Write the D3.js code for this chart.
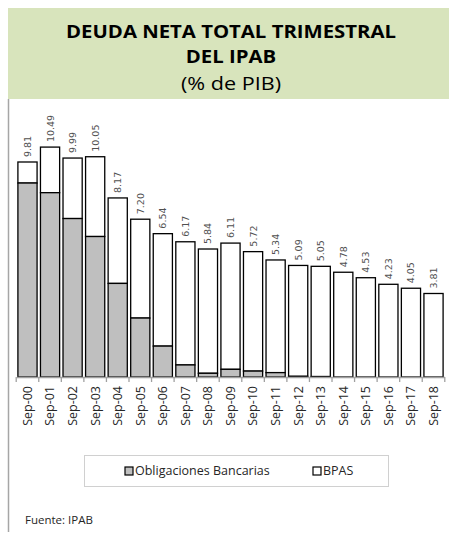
<!DOCTYPE html>
<html>
<head>
<meta charset="utf-8">
<script src="https://cdn.jsdelivr.net/npm/d3@7"></script>
<style>
  body { margin: 0; background: #fff; }
  svg { display: block; }
</style>
</head>
<body>
<script>
const periods = ['Sep-00', 'Sep-01', 'Sep-02', 'Sep-03', 'Sep-04', 'Sep-05', 'Sep-06',
                 'Sep-07', 'Sep-08', 'Sep-09', 'Sep-10', 'Sep-11', 'Sep-12', 'Sep-13',
                 'Sep-14', 'Sep-15', 'Sep-16', 'Sep-17', 'Sep-18'];
const totals = [9.81, 10.49, 9.99, 10.05, 8.17, 7.20, 6.54, 6.17, 5.84, 6.11,
                5.72, 5.34, 5.09, 5.05, 4.78, 4.53, 4.23, 4.05, 3.81];
const obligaciones = [8.85, 8.41, 7.23, 6.41, 4.27, 2.69, 1.41, 0.55, 0.17, 0.35,
                      0.27, 0.20, 0.03, 0.02, 0, 0, 0, 0, 0];
const seriesNames = ['Obligaciones Bancarias', 'BPAS'];

const W = 449, H = 533;
const svg = d3.select('body').append('svg')
  .attr('width', W)
  .attr('height', H);

// title box
svg.append('rect')
  .attr('x', 8).attr('y', 8)
  .attr('width', W - 8).attr('height', 91)
  .attr('fill', '#d8e4bc');

svg.append('line')
  .attr('x1', 8.5).attr('x2', 8.5)
  .attr('y1', 99).attr('y2', 532)
  .attr('stroke', '#a6a6a6').attr('stroke-width', 1.5);

// title lines, stretched a bit wider like the original
const titleLines = [
  { text: 'DEUDA NETA TOTAL TRIMESTRAL', y: 38, bold: true, size: 18, sx: 1.13 },
  { text: 'DEL IPAB', y: 63, bold: true, size: 18, sx: 1.13 },
  { text: '(% de PIB)', y: 90, bold: false, size: 18, sx: 1.2 }
];
svg.selectAll('.title')
  .data(titleLines)
  .enter()
  .append('text')
  .attr('class', 'title')
  .attr('transform', (d) => `translate(231,${d.y}) scale(${d.sx},1)`)
  .attr('text-anchor', 'middle')
  .style('font-family', '"Open Sans", sans-serif')
  .style('font-weight', (d) => d.bold ? 'bold' : 'normal')
  .style('font-size', (d) => d.size + 'px')
  .attr('fill', '#000')
  .text((d) => d.text);

// chart
const data = periods.map((p, i) => ({
  period: p,
  total: totals[i],
  ob: obligaciones[i],
  bpas: totals[i] - obligaciones[i]
}));

const x = d3.scaleBand()
  .domain(periods)
  .range([17, 444])
  .paddingInner(0.15)
  .paddingOuter(0.04);

const y = d3.scaleLinear()
  .domain([0, 12])
  .range([377, 114]);

const g = svg.append('g');

g.selectAll('.bpas')
  .data(data)
  .enter()
  .append('rect')
  .attr('class', 'bpas')
  .attr('x', (d) => x(d.period))
  .attr('width', x.bandwidth())
  .attr('y', (d) => y(d.total))
  .attr('height', (d) => y(d.ob) - y(d.total))
  .attr('fill', '#fff')
  .attr('stroke', '#000')
  .attr('stroke-width', 1.3);

g.selectAll('.ob')
  .data(data.filter((d) => d.ob > 0))
  .enter()
  .append('rect')
  .attr('class', 'ob')
  .attr('x', (d) => x(d.period))
  .attr('width', x.bandwidth())
  .attr('y', (d) => y(d.ob))
  .attr('height', (d) => y(0) - y(d.ob))
  .attr('fill', '#bfbfbf')
  .attr('stroke', '#000')
  .attr('stroke-width', 1.3);

// value labels
g.selectAll('.val')
  .data(data)
  .enter()
  .append('text')
  .attr('class', 'val')
  .attr('transform', (d) => `translate(${x(d.period) + x.bandwidth() / 2 + 3.5},${y(d.total) - 5}) rotate(-90)`)
  .style('font-family', '"DejaVu Sans", sans-serif')
  .style('font-size', '9.5px')
  .attr('fill', '#505050')
  .text((d) => d.total.toFixed(2));

// x axis
const xAxis = svg.append('g')
  .attr('transform', `translate(0,${y(0)})`)
  .call(d3.axisBottom(x).tickSize(0).tickPadding(0));
xAxis.select('.domain').remove();
xAxis.selectAll('text')
  .attr('transform', 'rotate(-90)')
  .attr('text-anchor', 'end')
  .attr('x', -9)
  .attr('y', 0)
  .attr('dy', '0.35em')
  .style('font-family', '"Open Sans", sans-serif')
  .style('font-size', '12.5px')
  .attr('fill', '#262626');

svg.append('line')
  .attr('x1', 17).attr('x2', 445)
  .attr('y1', y(0) + 0.5).attr('y2', y(0) + 0.5)
  .attr('stroke', '#a0a0a0').attr('stroke-width', 1.5);

const step = x.step();
const bounds = d3.range(periods.length + 1).map((i) => x(periods[0]) - step * x.paddingInner() / 2 + i * step);
svg.selectAll('.tick-mark')
  .data(bounds)
  .enter()
  .append('line')
  .attr('class', 'tick-mark')
  .attr('x1', (d) => d).attr('x2', (d) => d)
  .attr('y1', y(0)).attr('y2', y(0) + 5)
  .attr('stroke', '#a0a0a0').attr('stroke-width', 1.3);

// legend
svg.append('rect')
  .attr('x', 84.5).attr('y', 455.5)
  .attr('width', 304).attr('height', 31)
  .attr('fill', '#fff')
  .attr('stroke', '#d0d0d0');

const legendFill = ['#bfbfbf', '#fff'];
const legendX = [125, 313];
const legend = svg.selectAll('.legend')
  .data(seriesNames)
  .enter()
  .append('g')
  .attr('class', 'legend')
  .attr('transform', (d, i) => `translate(${legendX[i]},471)`);
legend.append('rect')
  .attr('x', 0).attr('y', -4)
  .attr('width', 8).attr('height', 8)
  .attr('fill', (d, i) => legendFill[i])
  .attr('stroke', '#000').attr('stroke-width', 1.2);
legend.append('text')
  .attr('x', 10).attr('dy', '0.35em')
  .style('font-family', '"Open Sans", sans-serif')
  .style('font-size', '12.5px')
  .attr('fill', '#262626')
  .text((d) => d);

svg.append('text')
  .attr('x', 25).attr('y', 524)
  .style('font-family', '"Open Sans", sans-serif')
  .style('font-size', '11.5px')
  .attr('fill', '#262626')
  .text('Fuente: IPAB');
</script>
</body>
</html>
